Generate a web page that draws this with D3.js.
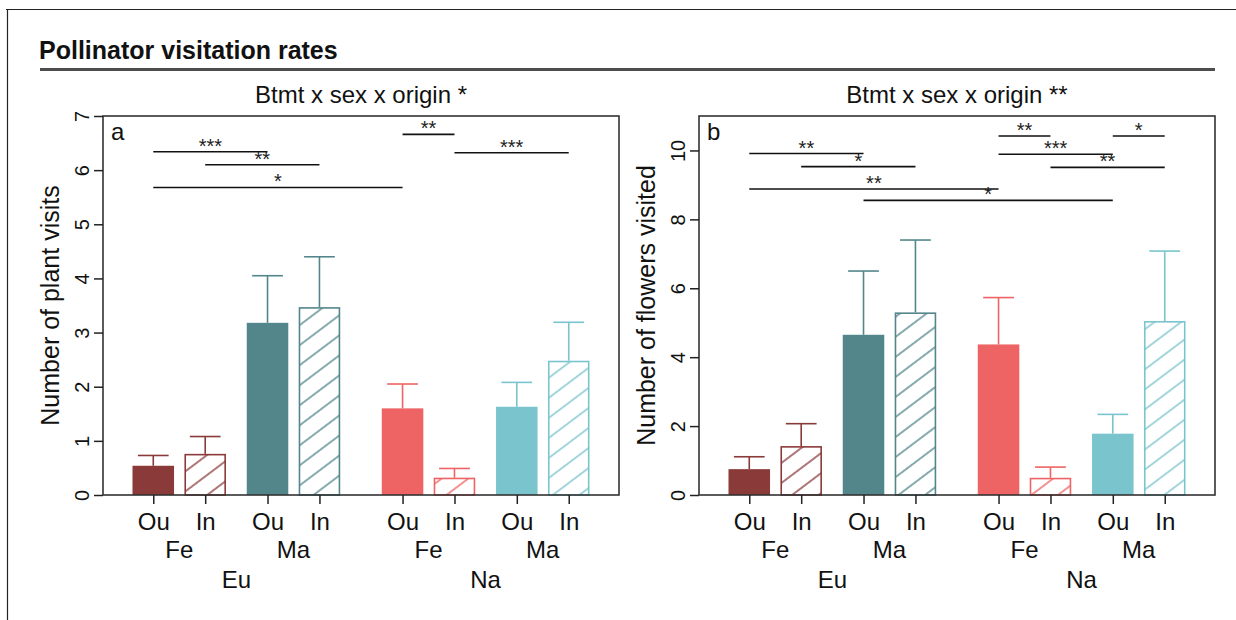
<!DOCTYPE html>
<html>
<head>
<meta charset="utf-8">
<script src="https://cdn.jsdelivr.net/npm/d3@7"></script>
<style>
  body { margin: 0; background: #fff; }
  svg { display: block; font-family: 'Liberation Sans', Arial, sans-serif; }
</style>
</head>
<body>
<svg id="chart" width="1236" height="620"></svg>
<script>
// Bars are ordered: Eu-Fe-Ou, Eu-Fe-In, Eu-Ma-Ou, Eu-Ma-In, Na-Fe-Ou, Na-Fe-In, Na-Ma-Ou, Na-Ma-In
var origins = ['Eu', 'Na'];
var sexes = ['Fe', 'Ma'];
var treatments = ['Ou', 'In'];
var groupColors = ['#8B3A3A', '#53868B', '#EE6363', '#7AC5CD'];

// Panel a: number of plant visits (mean and error)
var visitsMean = [0.54, 0.76, 3.18, 3.47, 1.60, 0.32, 1.63, 2.48];
var visitsErr  = [0.19, 0.32, 0.87, 0.93, 0.45, 0.17, 0.45, 0.71];
// significance brackets: [from bar, to bar, height, label]
var visitsSig = [
  [0, 2, 6.34, '***'], [1, 3, 6.10, '**'], [0, 4, 5.68, '*'],
  [4, 5, 6.66, '**'], [5, 7, 6.32, '***']
];
var visitsTicks = [0, 1, 2, 3, 4, 5, 6, 7];

// Panel b: number of flowers visited
var flowersMean = [0.75, 1.42, 4.65, 5.30, 4.37, 0.50, 1.78, 5.05];
var flowersErr  = [0.36, 0.65, 1.85, 2.10, 1.36, 0.31, 0.56, 2.03];
var flowersSig = [
  [0, 2, 9.91, '**'], [1, 3, 9.53, '*'], [0, 4, 8.88, '**'], [2, 6, 8.55, '*'],
  [4, 5, 10.42, '**'], [6, 7, 10.42, '*'], [4, 6, 9.89, '***'], [5, 7, 9.51, '**']
];
var flowersTicks = [0, 2, 4, 6, 8, 10];

var panels = [
  {letter: 'a', title: 'Btmt x sex x origin *', ylab: 'Number of plant visits',
   mean: visitsMean, err: visitsErr, sig: visitsSig, ticks: visitsTicks, ymax: 7, left: 103},
  {letter: 'b', title: 'Btmt x sex x origin **', ylab: 'Number of flowers visited',
   mean: flowersMean, err: flowersErr, sig: flowersSig, ticks: flowersTicks, ymax: 11, left: 699}
];

var svg = d3.select('#chart');
var plotTop = 116, plotBottom = 495, pw = 516;

// bar layout in bar-width units (like R barplot space)
var pad = 0.71, gaps = [0, 0.25, 0.5, 0.25, 1, 0.25, 0.5, 0.25];
var starts = [], acc = pad;
gaps.forEach(function(g, i){ acc += g; starts.push(acc); acc += 1; });
var totalUnits = acc + pad;

// frame of the figure
svg.append('line').attr('x1', 6).attr('x2', 1236).attr('y1', 9.5).attr('y2', 9.5)
  .attr('stroke', '#222').attr('stroke-width', 1.2);
svg.append('line').attr('x1', 7.5).attr('x2', 7.5).attr('y1', 9).attr('y2', 620)
  .attr('stroke', '#222').attr('stroke-width', 1.2);

svg.append('text').attr('x', 39).attr('y', 59)
  .attr('font-size', 25).attr('font-weight', 'bold').attr('fill', '#111')
  .text('Pollinator visitation rates');
svg.append('rect').attr('x', 40).attr('y', 68).attr('width', 1175).attr('height', 3)
  .attr('fill', '#4d4d4d');

// hatch patterns, one per colour
var defs = svg.append('defs');
groupColors.forEach(function(c, i){
  var p = defs.append('pattern').attr('id', 'hatch' + i)
    .attr('patternUnits', 'userSpaceOnUse')
    .attr('width', 10).attr('height', 16)
    .attr('patternTransform', 'rotate(-37)');
  p.append('rect').attr('width', 10).attr('height', 16).attr('fill', '#fff');
  p.append('line').attr('x1', 0).attr('x2', 10).attr('y1', 8).attr('y2', 8)
    .attr('stroke', c).attr('stroke-width', 1.4);
});

panels.forEach(function(P){
  var g = svg.append('g');
  var x = d3.scaleLinear().domain([0, totalUnits]).range([P.left, P.left + pw]);
  var y = d3.scaleLinear().domain([0, P.ymax]).range([plotBottom, plotTop]);
  var center = function(i){ return x(starts[i] + 0.5); };

  var bars = P.mean.map(function(m, i){
    return {i: i, mean: m, err: P.err[i], grp: Math.floor(i / 2), hatched: i % 2 === 1};
  });

  // error bars
  var eb = g.selectAll('.eb').data(bars).enter().append('g')
    .attr('stroke', function(d){ return groupColors[d.grp]; })
    .attr('stroke-width', 1.6);
  eb.append('line')
    .attr('x1', function(d){ return center(d.i); })
    .attr('x2', function(d){ return center(d.i); })
    .attr('y1', function(d){ return y(d.mean); })
    .attr('y2', function(d){ return y(d.mean + d.err); });
  eb.append('line')
    .attr('x1', function(d){ return x(starts[d.i] + 0.5 - 0.37); })
    .attr('x2', function(d){ return x(starts[d.i] + 0.5 + 0.37); })
    .attr('y1', function(d){ return y(d.mean + d.err); })
    .attr('y2', function(d){ return y(d.mean + d.err); });

  // bars
  g.selectAll('.bar').data(bars).enter().append('rect')
    .attr('x', function(d){ return x(starts[d.i]) + (d.hatched ? 0.8 : 0); })
    .attr('width', function(d){ return x(1) - x(0) - (d.hatched ? 1.6 : 0); })
    .attr('y', function(d){ return y(d.mean) + (d.hatched ? 0.8 : 0); })
    .attr('height', function(d){ return plotBottom - y(d.mean) - (d.hatched ? 0.8 : 0); })
    .attr('fill', function(d){ return d.hatched ? 'url(#hatch' + d.grp + ')' : groupColors[d.grp]; })
    .attr('stroke', function(d){ return d.hatched ? groupColors[d.grp] : 'none'; })
    .attr('stroke-width', 1.6);

  // plot box
  g.append('rect').attr('x', P.left).attr('y', plotTop).attr('width', pw).attr('height', plotBottom - plotTop)
    .attr('fill', 'none').attr('stroke', '#333').attr('stroke-width', 1.6);

  // y axis
  var ya = g.append('g').attr('transform', 'translate(' + P.left + ',0)')
    .call(d3.axisLeft(y).tickValues(P.ticks).tickSize(9).tickFormat(d3.format('d')));
  ya.attr('font-size', 20).attr('font-family', null);
  ya.select('.domain').remove();
  ya.selectAll('.tick line').attr('stroke', '#222').attr('stroke-width', 1.5);
  ya.selectAll('.tick text')
    .attr('x', null).attr('dy', null)
    .attr('transform', 'translate(-14,0) rotate(-90)')
    .attr('text-anchor', 'middle')
    .attr('fill', '#111');

  // x axis
  var xa = g.append('g').attr('transform', 'translate(0,' + plotBottom + ')')
    .call(d3.axisBottom(x).tickValues(starts.map(function(s){ return s + 0.5; }))
      .tickSize(9).tickFormat(function(d, i){ return treatments[i % 2]; }));
  xa.attr('font-size', 24).attr('font-family', null);
  xa.select('.domain').remove();
  xa.selectAll('.tick line').attr('stroke', '#222').attr('stroke-width', 1.5);
  xa.selectAll('.tick text').attr('y', 35).attr('dy', null).attr('fill', '#111');

  // sex and origin labels
  sexes.concat(sexes).forEach(function(s, k){
    g.append('text').attr('x', (center(2 * k) + center(2 * k + 1)) / 2).attr('y', 558)
      .attr('text-anchor', 'middle').attr('font-size', 24).attr('fill', '#111').text(s);
  });
  origins.forEach(function(o, k){
    g.append('text').attr('x', (center(4 * k) + center(4 * k + 3)) / 2).attr('y', 588)
      .attr('text-anchor', 'middle').attr('font-size', 24).attr('fill', '#111').text(o);
  });

  // significance brackets
  P.sig.forEach(function(s){
    g.append('line').attr('x1', center(s[0])).attr('x2', center(s[1]))
      .attr('y1', y(s[2])).attr('y2', y(s[2]))
      .attr('stroke', '#111').attr('stroke-width', 1.6);
    g.append('text').attr('x', (center(s[0]) + center(s[1])) / 2).attr('y', y(s[2]) + 1)
      .attr('text-anchor', 'middle').attr('font-size', 20).attr('fill', '#222').text(s[3]);
  });

  // panel letter, title, y label
  g.append('text').attr('x', P.left + 8).attr('y', 140).attr('font-size', 24).attr('fill', '#111')
    .text(P.letter);
  g.append('text').attr('x', P.left + pw / 2).attr('y', 103).attr('text-anchor', 'middle')
    .attr('font-size', 24).attr('fill', '#111').text(P.title);
  g.append('text').attr('transform', 'translate(' + (P.left - 44) + ',' + ((plotTop + plotBottom) / 2) + ') rotate(-90)')
    .attr('text-anchor', 'middle').attr('font-size', 25).attr('fill', '#111').text(P.ylab);
});
</script>
</body>
</html>
